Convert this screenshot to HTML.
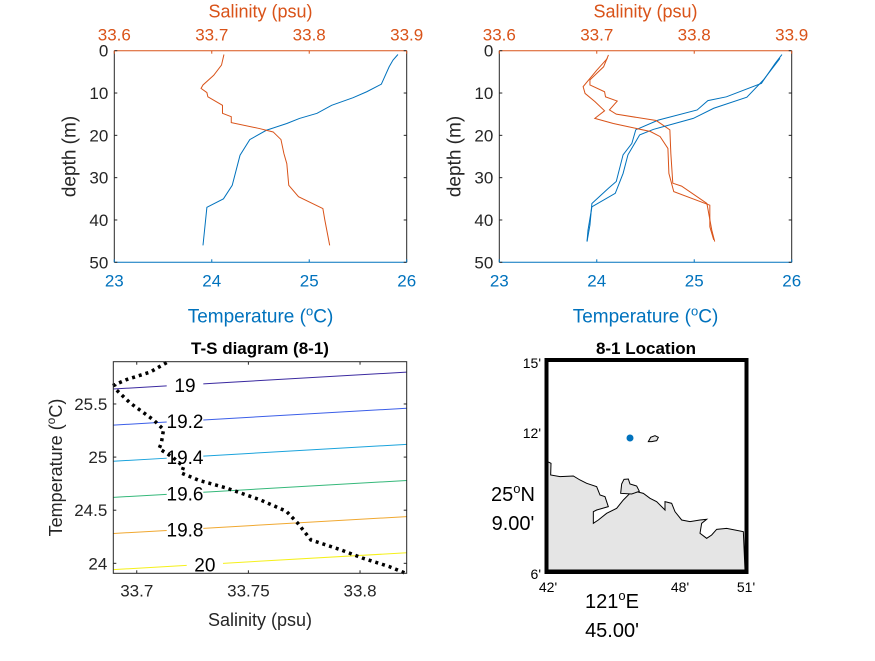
<!DOCTYPE html>
<html><head><meta charset="utf-8"><style>
body{margin:0;background:#fff}
svg text{font-family:"Liberation Sans",Arial,sans-serif}
</style></head><body>
<svg id="fig" width="875" height="656" viewBox="0 0 875 656" xmlns="http://www.w3.org/2000/svg">
<rect width="875" height="656" fill="#fff"/>
<g id="p1"></g>
<g id="p2"></g>
<g id="p3"></g>
<g id="p4">
 <text x="646" y="354" font-size="17" font-weight="bold" text-anchor="middle" fill="#000">8-1 Location</text>
 <g transform="translate(480,330) scale(0.33333)">
  <polygon fill="#e5e5e5" stroke="#000" stroke-width="3" points="203,395 213,400 212,435 240,440 280,438 300,450 320,460 350,470 360,495 375,500 385,530 350,540 340,545 340,580 355,570 380,550 410,535 430,510 450,490 470,485 490,490 510,505 530,515 555,540 555,515 575,520 585,545 605,570 630,575 660,570 680,568 665,580 660,610 680,625 695,615 710,598 740,595 790,605 795,720 203,720"/>
  <polygon fill="#e5e5e5" stroke="#000" stroke-width="3" points="425,462 432,448 445,447 450,462 470,468 478,484 455,492 422,490"/>
  <polygon fill="#e5e5e5" stroke="#000" stroke-width="3" points="505,335 512,322 525,317 535,322 530,332 515,335"/>
 </g>
 <rect x="546.5" y="360" width="200" height="212" fill="none" stroke="#000" stroke-width="4"/>
 <circle cx="630" cy="438" r="3.5" fill="#0072bd"/>
 <g font-size="14" fill="#000">
  <text x="541" y="368" text-anchor="end">15'</text>
  <text x="541" y="438" text-anchor="end">12'</text>
  <text x="541" y="579" text-anchor="end">6'</text>
  <text x="548" y="592" text-anchor="middle">42'</text>
  <text x="680" y="592" text-anchor="middle">48'</text>
  <text x="746" y="592" text-anchor="middle">51'</text>
 </g>
 <g font-size="20" fill="#000">
  <text x="513" y="501" text-anchor="middle">25<tspan font-size="13" dy="-8">o</tspan><tspan dy="8">N</tspan></text>
  <text x="513" y="530" text-anchor="middle">9.00'</text>
  <text x="612" y="608" text-anchor="middle">121<tspan font-size="13" dy="-8">o</tspan><tspan dy="8">E</tspan></text>
  <text x="612" y="637" text-anchor="middle">45.00'</text>
 </g>
</g>
<script>
// ---- profile data (cast 1, left panel) ----
const depth1 = [0.9,2.2,3.8,7.9,9.7,11.1,12.9,14.8,16,17.2,18.8,21,24.7,31.8,35,37,46];
const temp1  = [25.91,25.86,25.82,25.74,25.59,25.45,25.23,25.08,24.90,24.77,24.56,24.39,24.29,24.21,24.12,23.95,23.91];
const sdepth1 = [0.9,3.4,5.8,8.1,8.9,9.9,10.9,12.9,14.8,15.6,17,18.4,19.2,21,24.3,26.7,31.8,34.5,37.3,40,46];
const sal1    = [33.7125,33.710,33.702,33.691,33.689,33.695,33.696,33.711,33.711,33.720,33.720,33.749,33.763,33.771,33.774,33.777,33.779,33.789,33.814,33.816,33.821];
// ---- right panel, two casts ----
const depth2a = [0.9,3,7.7,10.9,11.8,14,16.4,18.7,21.9,24.6,30.9,32.5,36.1,41.2,45.1];
const temp2a  = [25.90,25.83,25.69,25.33,25.14,25.03,24.63,24.40,24.36,24.27,24.20,24.12,23.95,23.93,23.90];
const depth2b = [1.8,6.9,11,13.6,16,18.6,19.9,24.6,29,33.7,36.9,42.4,45.1];
const temp2b  = [25.88,25.71,25.54,25.20,24.99,24.58,24.44,24.32,24.27,24.19,23.95,23.91,23.90];
const sdepth2a = [1,3.8,6.9,8.1,9.7,10.9,11.9,14,15,16.5,18.7,24.3,31.3,32,36.1,42.4,45.1];
const sal2a    = [33.712,33.707,33.693,33.693,33.708,33.709,33.721,33.713,33.720,33.761,33.775,33.776,33.778,33.787,33.813,33.818,33.821];
const sdepth2b = [1.8,4.6,8.5,10.1,12,14.2,16,17.2,19.1,20.3,23.1,29,33.3,36.5,41.6,44.7];
const sal2b    = [33.711,33.700,33.686,33.688,33.698,33.708,33.698,33.717,33.755,33.765,33.773,33.774,33.779,33.816,33.816,33.820];
// ---- T-S diagram ----
const tsSal  = [33.7134,33.706,33.6955,33.690,33.691,33.697,33.7075,33.712,33.711,33.710,33.716,33.721,33.720,33.728,33.740,33.755,33.767,33.772,33.778,33.791,33.801,33.813,33.820];
const tsTemp = [25.89,25.80,25.73,25.68,25.63,25.51,25.35,25.26,25.13,25.08,25.00,24.91,24.85,24.78,24.71,24.60,24.49,24.38,24.22,24.13,24.05,23.97,23.91];
const sigmaLevels = [19,19.2,19.4,19.6,19.8,20];
const sigmaLabels = ['19','19.2','19.4','19.6','19.8','20'];
const sigmaColors = ['#3b2aa0','#3b5ee8','#1aa3dc','#35b87a','#f0a830','#f5f01a'];
const depthTicks = [0,10,20,30,40,50];
const tempTicks = [23,24,25,26];
const salTicks = [33.6,33.7,33.8,33.9];
const tsSalTicks = [33.7,33.75,33.8];
const tsTempTicks = [24,24.5,25,25.5];

const NS='http://www.w3.org/2000/svg';
function mk(parent,tag,attrs,text){const e=document.createElementNS(NS,tag);for(const k in attrs)e.setAttribute(k,attrs[k]);if(text!=null)e.textContent=text;parent.appendChild(e);return e;}
function degLabel(t,fs){
  t.appendChild(document.createTextNode('Temperature ('));
  mk(t,'tspan',{'font-size':Math.round(fs*0.68),dy:-7},'o');
  mk(t,'tspan',{dy:7},'C)');
}
const BLUE='#0072bd',ORANGE='#d95319',GRAY='#262626';

function profile(gid,L,R,T,B,casts){
  const g=document.getElementById(gid);
  const xT=t=>L+(t-23)/3*(R-L), xS=s=>L+(s-33.6)/0.3*(R-L), yD=d=>T+d/50*(B-T);
  casts.forEach(c=>{
    const pt=c.temp.map((t,i)=>xT(t)+','+yD(c.depth[i])).join(' ');
    const l1=mk(g,'polyline',{points:pt,fill:'none',stroke:BLUE,'stroke-width':1});
    
    
    const ps=c.sal.map((s,i)=>xS(s)+','+yD(c.sdepth[i])).join(' ');
    const l2=mk(g,'polyline',{points:ps,fill:'none',stroke:ORANGE,'stroke-width':1});
    
    
  });
  mk(g,'line',{x1:L,y1:T,x2:L,y2:B,stroke:GRAY});
  mk(g,'line',{x1:R,y1:T,x2:R,y2:B,stroke:GRAY});
  mk(g,'line',{x1:L,y1:B,x2:R,y2:B,stroke:BLUE});
  mk(g,'line',{x1:L,y1:T,x2:R,y2:T,stroke:ORANGE});
  depthTicks.forEach(d=>{const y=yD(d);
    mk(g,'line',{x1:L,y1:y,x2:L+3,y2:y,stroke:GRAY});mk(g,'line',{x1:R,y1:y,x2:R-3,y2:y,stroke:GRAY});
    const t=mk(g,'text',{x:L-6,y:y+6,'font-size':17,'text-anchor':'end',fill:GRAY},d);
    
    });
  tempTicks.forEach(v=>{const x=xT(v);mk(g,'line',{x1:x,y1:B,x2:x,y2:B-3,stroke:BLUE});
    const t=mk(g,'text',{x:x,y:B+24,'font-size':17,'text-anchor':'middle',fill:BLUE},v);
    
    });
  salTicks.forEach(v=>{const x=xS(v);mk(g,'line',{x1:x,y1:T,x2:x,y2:T+3,stroke:ORANGE});
    const t=mk(g,'text',{x:x,y:T-10,'font-size':17,'text-anchor':'middle',fill:ORANGE},v.toFixed(1));
    
    });
  const xl=mk(g,'text',{x:(L+R)/2,y:B+60,'font-size':19,'text-anchor':'middle',fill:BLUE});
  degLabel(xl,19);
  
  
  const tl=mk(g,'text',{x:(L+R)/2,y:T-33,'font-size':18,'text-anchor':'middle',fill:ORANGE},'Salinity (psu)');
  
  
  const yl=mk(g,'text',{x:0,y:0,'font-size':19,'text-anchor':'middle',fill:GRAY,transform:`translate(${L-39},${(T+B)/2}) rotate(-90)`},'depth (m)');
  
  
}
profile('p1',114.3,406.7,50.7,262.3,[{depth:depth1,temp:temp1,sdepth:sdepth1,sal:sal1}]);
profile('p2',499.3,791.7,50.7,262.3,[{depth:depth2a,temp:temp2a,sdepth:sdepth2a,sal:sal2a},{depth:depth2b,temp:temp2b,sdepth:sdepth2b,sal:sal2b}]);

(function(){
  const g=document.getElementById('p3');
  const L=113.3,R=406.7,T=361.7,B=573.3,S0=33.6895,S1=33.8209,T0=23.906,T1=25.898;
  const xS=s=>L+(s-S0)/(S1-S0)*(R-L), yT=t=>B-(t-T0)/(T1-T0)*(B-T);
  const defs=mk(g,'defs',{});
  const cp=mk(defs,'clipPath',{id:'tsclip'});
  mk(cp,'rect',{x:L,y:T,width:R-L,height:B-T});
  const cg=mk(g,'g',{'clip-path':'url(#tsclip)'});
  const isoT=(lev,s)=>25.641+(s-33.6895)*1.21-(lev-19)/0.588;
  sigmaLevels.forEach((lev,i)=>{
    const gapA = i===5?186.7:166.7, gapB = i===5?223:203.3;
    const sA=S0+(gapA-L)/(R-L)*(S1-S0), sB=S0+(gapB-L)/(R-L)*(S1-S0);
    [[S0,sA],[sB,S1]].forEach(([a,b])=>{
      const ln=mk(cg,'line',{x1:xS(a),y1:yT(isoT(lev,a)),x2:xS(b),y2:yT(isoT(lev,b)),stroke:sigmaColors[i],'stroke-width':1});
      
      
    });
    const sm=(sA+sB)/2;
    const lb=mk(g,'text',{x:(gapA+gapB)/2,y:yT(isoT(lev,sm))+7,'font-size':19,'text-anchor':'middle',fill:'#000'},sigmaLabels[i]);
    
    
  });
  const pts=tsSal.map((s,i)=>xS(s)+','+yT(tsTemp[i])).join(' ');
  const c=mk(g,'polyline',{points:pts,fill:'none',stroke:'#000','stroke-width':3.5,'stroke-dasharray':'3 4'});
  
  
  mk(g,'rect',{x:L,y:T,width:R-L,height:B-T,fill:'none',stroke:GRAY,'stroke-width':1});
  tsSalTicks.forEach(v=>{const x=xS(v);mk(g,'line',{x1:x,y1:B,x2:x,y2:B-3,stroke:GRAY});mk(g,'line',{x1:x,y1:T,x2:x,y2:T+3,stroke:GRAY});
    const t=mk(g,'text',{x:x,y:B+23,'font-size':17,'text-anchor':'middle',fill:GRAY},String(v));
    
    });
  tsTempTicks.forEach(v=>{const y=yT(v);mk(g,'line',{x1:L,y1:y,x2:L+3,y2:y,stroke:GRAY});mk(g,'line',{x1:R,y1:y,x2:R-3,y2:y,stroke:GRAY});
    const t=mk(g,'text',{x:L-6,y:y+6,'font-size':17,'text-anchor':'end',fill:GRAY},String(v));
    
    });
  const ti=mk(g,'text',{x:(L+R)/2,y:354,'font-size':17,'font-weight':'bold','text-anchor':'middle',fill:'#000'},'T-S diagram (8-1)');
  
  
  const xl=mk(g,'text',{x:(L+R)/2,y:626,'font-size':18,'text-anchor':'middle',fill:GRAY},'Salinity (psu)');
  
  
  const yl=mk(g,'text',{x:0,y:0,'font-size':18,'text-anchor':'middle',fill:GRAY,transform:`translate(62,${(T+B)/2}) rotate(-90)`});
  degLabel(yl,18);
  
  
})();
</script>
</svg>
</body></html>
